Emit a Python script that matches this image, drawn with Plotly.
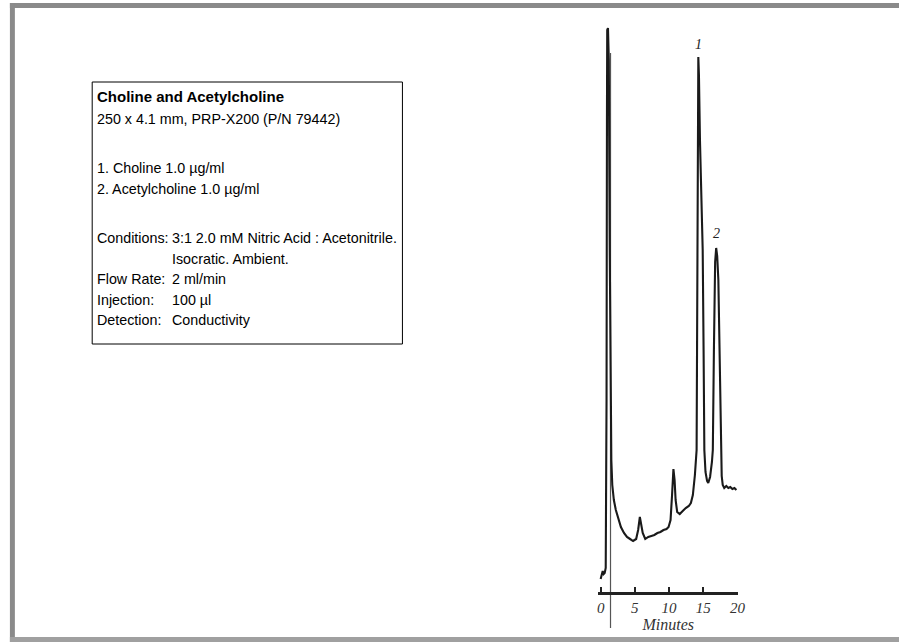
import plotly.graph_objects as go

# ---- data ----
time_min = [0.00, 0.15, 0.30, 0.44, 0.59, 0.74, 0.86, 0.92, 0.96, 1.07, 1.19, 1.33, 1.45, 1.56, 1.70,
            1.93, 2.22, 2.67, 2.96, 3.41, 3.85, 4.30, 4.74, 5.19, 5.48, 5.73, 5.93, 6.15, 6.52, 6.96,
            7.41, 7.85, 8.30, 8.74, 9.19, 9.63, 9.93, 10.22, 10.44, 10.64, 10.81, 10.96, 11.19, 11.56,
            12.00, 12.44, 12.89, 13.19, 13.48, 13.78, 14.03, 14.12, 14.18, 14.24, 14.28, 14.37, 14.52,
            14.74, 14.92, 15.05, 15.16, 15.33, 15.56, 15.73, 16.00, 16.27, 16.40, 16.56, 16.74, 16.89,
            17.04, 17.21, 17.38, 17.58, 17.70, 17.85, 18.07, 18.37, 18.67, 18.96, 19.26, 19.56, 19.85]
signal = [14, 19, 22, 19, 20, 25, 193, 473, 563, 565, 533, 343, 173, 133, 108,
          93, 83, 73, 66, 60, 56, 54, 52, 54, 63, 76, 70, 60, 54, 56,
          57, 58, 60, 61, 63, 64, 66, 73, 98, 124, 113, 93, 81, 79,
          82, 85, 87, 90, 98, 118, 143, 243, 343, 473, 536, 518, 453,
          383, 343, 243, 143, 121, 112, 110, 116, 131, 143, 243, 331, 345,
          337, 313, 243, 143, 117, 108, 105, 107, 105, 106, 104, 105, 103]

inject_time = [1.44, 1.44]
inject_signal = [540, -35]

peak_labels = ["1", "2"]
peak_label_time = [14.37, 16.89]
peak_label_signal = [549, 360]

tick_vals = [0, 5, 10, 15, 20]
tick_text = ["0", "5", "10", "15", "20"]

info_title = "Choline and Acetylcholine"
info_lines = ["250 x 4.1 mm, PRP-X200 (P/N 79442)",
              "1. Choline 1.0 \u00b5g/ml", "2. Acetylcholine 1.0 \u00b5g/ml"]
info_keys = ["Conditions:", "", "Flow Rate:", "Injection:", "Detection:"]
info_vals = ["3:1 2.0 mM Nitric Acid : Acetonitrile.", "Isocratic. Ambient.",
             "2 ml/min", "100 \u00b5l", "Conductivity"]

W, H = 906, 642
def px(x):
    return x / W
def py(y):
    return 1 - y / H

fig = go.Figure()
fig.add_trace(go.Scatter(x=inject_time, y=inject_signal, mode="lines",
                         line=dict(color="#555555", width=1.2), hoverinfo="skip"))
fig.add_trace(go.Scatter(x=time_min, y=signal, mode="lines",
                         line=dict(color="#1a1a1a", width=2.1), hoverinfo="skip"))

for lab, t, s in zip(peak_labels, peak_label_time, peak_label_signal):
    fig.add_annotation(x=t, y=s, xref="x", yref="y", text=lab, showarrow=False,
                       font=dict(family="Liberation Serif", size=14, style="italic", color="#222"))

# info box
box_l, box_t, box_r, box_b = 92, 82, 405, 344
fig.add_shape(type="rect", xref="paper", yref="paper",
              x0=px(box_l), x1=px(box_r), y0=py(box_b), y1=py(box_t),
              line=dict(color="black", width=1), fillcolor="white", layer="below")
tx = 95
body = dict(family="Liberation Sans", size=14.3, color="black")
fig.add_annotation(x=px(tx), y=py(97), xref="paper", yref="paper", text="<b>" + info_title + "</b>",
                   showarrow=False, xanchor="left", yanchor="middle",
                   font=dict(family="Liberation Sans", size=15, color="black"))
ys = [118.5, 168, 188.5]
for line, y in zip(info_lines, ys):
    fig.add_annotation(x=px(tx), y=py(y), xref="paper", yref="paper", text=line,
                       showarrow=False, xanchor="left", yanchor="middle", font=body)
ys2 = [238, 258.5, 279, 299.5, 320]
for k, v, y in zip(info_keys, info_vals, ys2):
    if k:
        fig.add_annotation(x=px(tx), y=py(y), xref="paper", yref="paper", text=k,
                           showarrow=False, xanchor="left", yanchor="middle", font=body)
    fig.add_annotation(x=px(171), y=py(y), xref="paper", yref="paper", text=v,
                       showarrow=False, xanchor="left", yanchor="middle", font=body)

# page frame
gray = "#8a8a8a"
fig.add_shape(type="rect", xref="paper", yref="paper", x0=px(9), x1=1, y0=py(8), y1=py(3),
              line=dict(width=0), fillcolor=gray)
fig.add_shape(type="rect", xref="paper", yref="paper", x0=px(9), x1=px(14), y0=py(642), y1=py(3),
              line=dict(width=0), fillcolor=gray)
fig.add_shape(type="rect", xref="paper", yref="paper", x0=px(9), x1=1, y0=py(642), y1=py(637),
              line=dict(width=0), fillcolor="#a0a0a0")

# axes: 6.9 px per minute, 0 min at x=605
scale, x0min = 6.9, 605
x_l, x_r = 602.5, 744
t_l = (x_l - x0min) / scale
t_r = (x_r - x0min) / scale
fig.update_layout(
    width=W, height=H, margin=dict(l=0, r=0, t=0, b=0),
    paper_bgcolor="white", plot_bgcolor="rgba(0,0,0,0)", showlegend=False,
    xaxis=dict(domain=[px(x_l), px(x_r)], range=[t_l, t_r], anchor="free", position=py(593.3),
               showline=True, linecolor="#222", linewidth=2.5, showgrid=False, zeroline=False,
               ticks="inside", ticklen=6, tickwidth=2, tickcolor="#222",
               tickvals=tick_vals, ticktext=tick_text,
               tickfont=dict(family="Liberation Serif", size=15, style="italic", color="#333"),
               title=dict(text="Minutes", standoff=1,
                          font=dict(family="Liberation Serif", size=16, style="italic", color="#333"))),
    yaxis=dict(domain=[0, 1], range=[-49, 593], visible=False, showgrid=False, zeroline=False),
)
fig.write_html("out.html")
